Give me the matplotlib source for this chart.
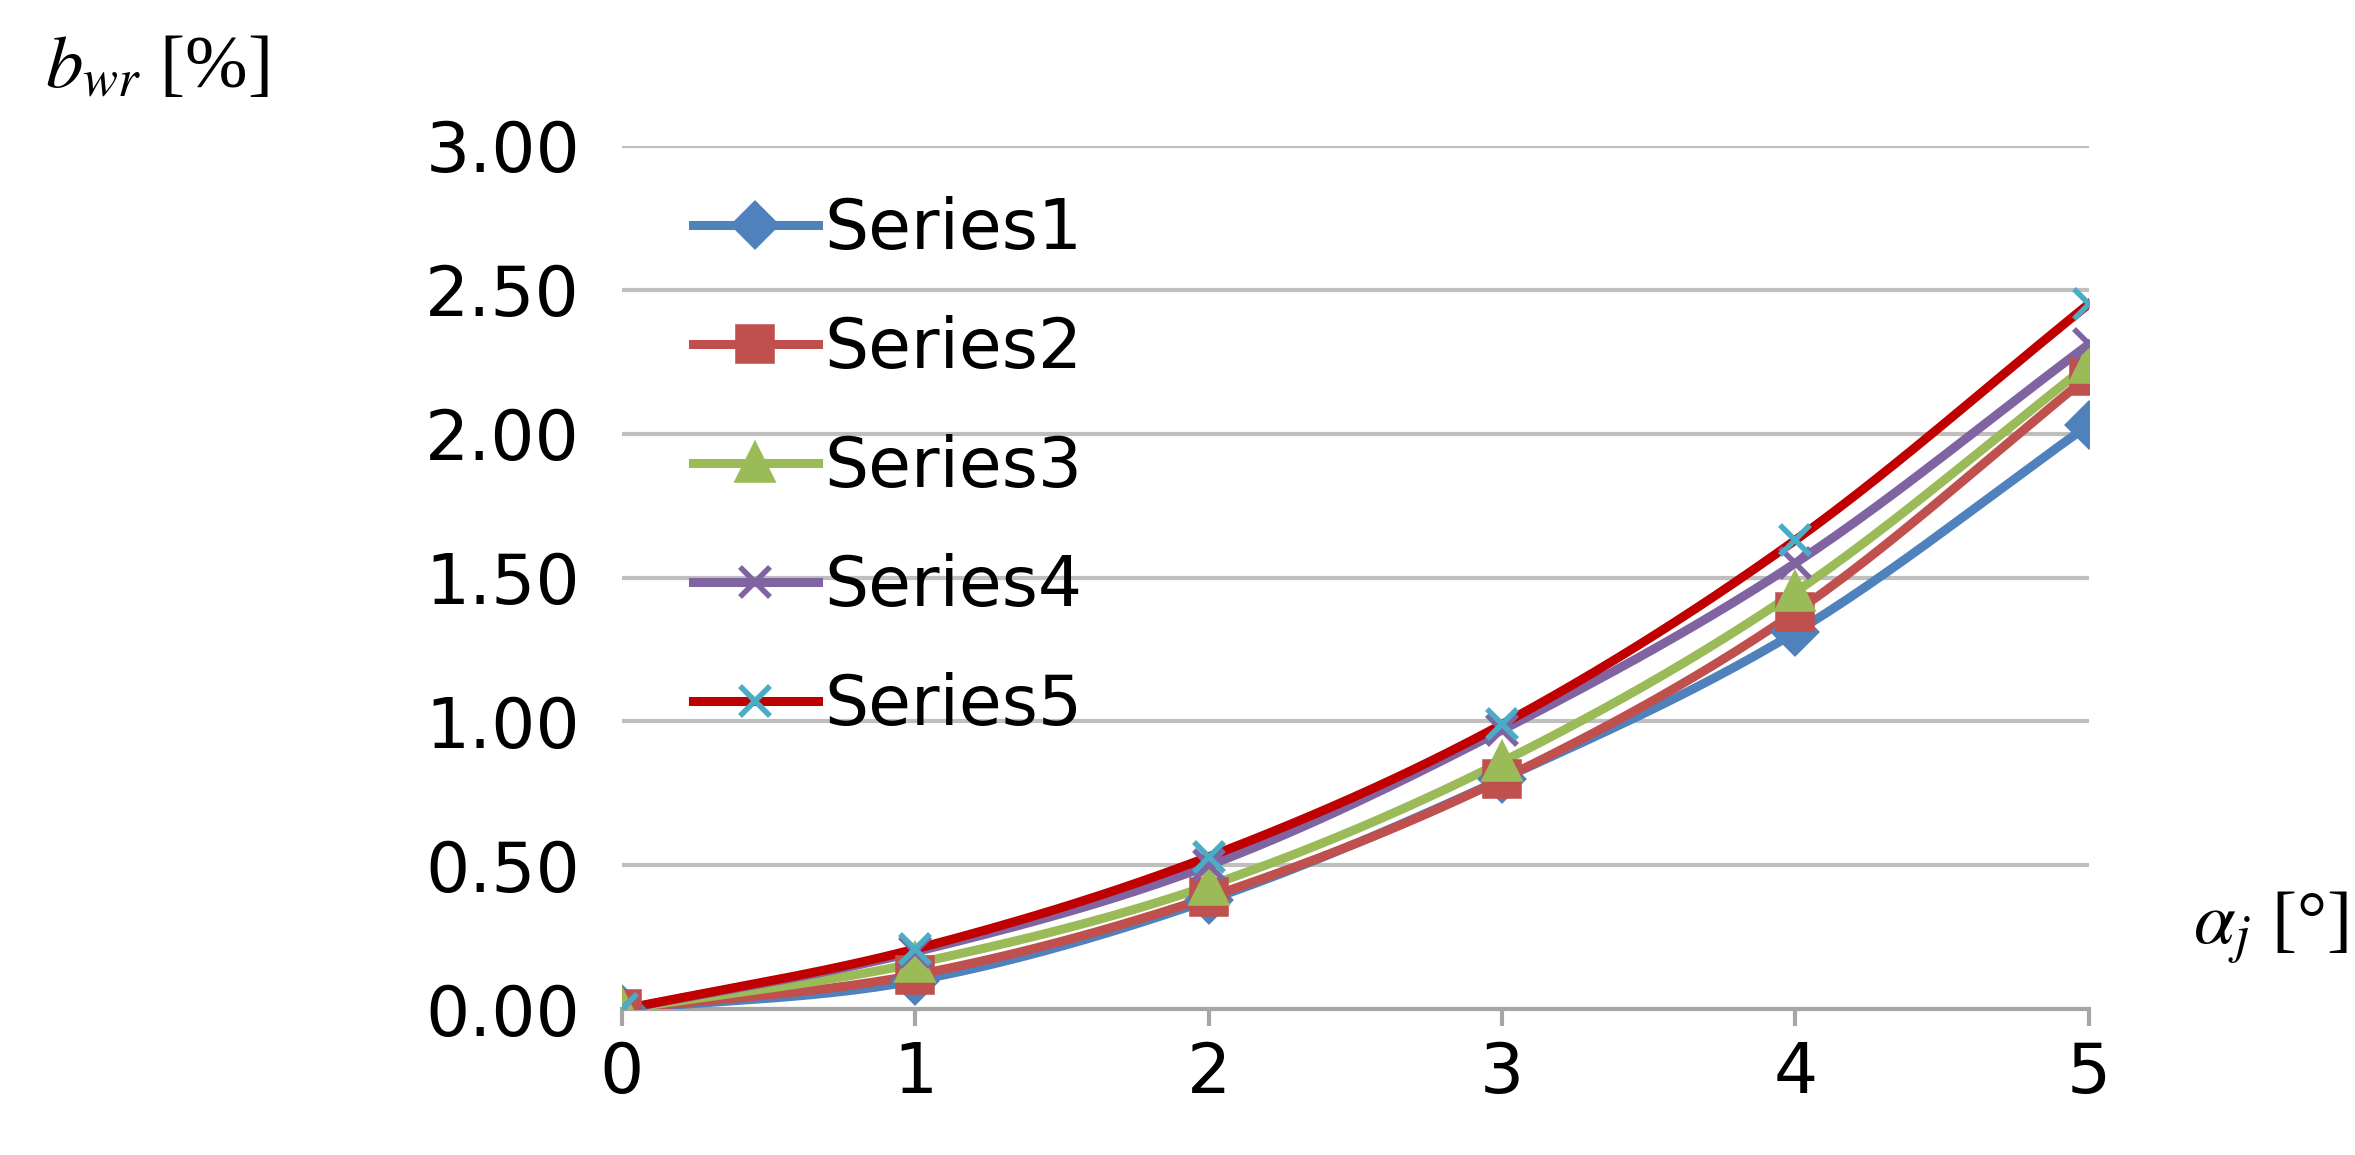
import numpy as np
import matplotlib
matplotlib.use("Agg")
import matplotlib.pyplot as plt
from matplotlib.lines import Line2D

x = [0, 1, 2, 3, 4, 5]
series_names = ["Series1", "Series2", "Series3", "Series4", "Series5"]
s1 = [0.0, 0.10, 0.38, 0.80, 1.31, 2.03]
s2 = [0.0, 0.12, 0.39, 0.80, 1.38, 2.20]
s3 = [0.0, 0.16, 0.43, 0.86, 1.45, 2.24]
s4 = [0.0, 0.20, 0.50, 0.97, 1.55, 2.31]
s5 = [0.0, 0.21, 0.53, 0.99, 1.63, 2.45]
yticks = [0.0, 0.5, 1.0, 1.5, 2.0, 2.5, 3.0]

line_colors = ["#4F81BD", "#C0504D", "#9BBB59", "#8064A2", "#C00000"]
marker_colors = ["#4F81BD", "#C0504D", "#9BBB59", "#8064A2", "#4BACC6"]
markers = ["D", "s", "^", "x", "x"]

def smooth(xs, ys, n=30):
    xs = np.asarray(xs, float); ys = np.asarray(ys, float)
    px = np.concatenate([[2*xs[0]-xs[1]], xs, [2*xs[-1]-xs[-2]]])
    py = np.concatenate([[2*ys[0]-ys[1]], ys, [2*ys[-1]-ys[-2]]])
    ox, oy = [], []
    t = np.linspace(0, 1, n)
    for i in range(1, len(px)-2):
        for p, o in ((px, ox), (py, oy)):
            p0, p1, p2, p3 = p[i-1], p[i], p[i+1], p[i+2]
            o.extend(0.5*((2*p1) + (-p0+p2)*t + (2*p0-5*p1+4*p2-p3)*t**2 + (-p0+3*p1-3*p2+p3)*t**3))
    return ox, oy

fig = plt.figure(figsize=(23.55, 11.55), dpi=100)
ax = fig.add_axes([0.264, 0.126, 0.623, 0.748])
handles = []
for ys, lc, mc, m, name in zip([s1, s2, s3, s4, s5], line_colors, marker_colors, markers, series_names):
    sx, sy = smooth(x, ys)
    ax.plot(sx, sy, color=lc, lw=6.5, zorder=3)
    ms = 24 if m in ("s", "^") else 21
    ax.plot(x, ys, ls="none", marker=m, ms=ms, color=mc, mec=mc, mew=4, zorder=4)
    handles.append(Line2D([], [], color=lc, lw=6.5, marker=m, ms=ms, mfc=mc, mec=mc, mew=4))

ax.set_xlim(0, 5)
ax.set_ylim(0, 3.0)
ax.set_yticks(yticks)
ax.set_yticklabels([f"{v:.2f}" for v in yticks])
ax.set_xticks(x)
ax.grid(axis="y", color="#BFBFBF", lw=3)
ax.set_axisbelow(True)
for s in ["top", "right", "left"]:
    ax.spines[s].set_visible(False)
ax.spines["bottom"].set_color("#A6A6A6")
ax.spines["bottom"].set_linewidth(3)
ax.tick_params(axis="y", length=0, labelsize=50, pad=30)
ax.tick_params(axis="x", length=12, width=3, color="#A6A6A6", labelsize=50, pad=10)
for lab in ax.get_xticklabels() + ax.get_yticklabels():
    lab.set_family("DejaVu Sans")

ax.legend(handles, series_names, loc="upper left", bbox_to_anchor=(0.02, 0.99), frameon=False,
          fontsize=50, labelspacing=0.75, handlelength=1.8, handletextpad=0.1, borderaxespad=0.2)

fig.text(0.019, 0.94, r"$b_{wr}$ [%]", fontsize=54, family="Liberation Serif", va="center",
         math_fontfamily="stix")
fig.text(0.997, 0.196, r"$\alpha_j$ [°]", fontsize=54, family="Liberation Serif", va="center",
         ha="right", math_fontfamily="stix")

fig.savefig("out.png", dpi=100)
